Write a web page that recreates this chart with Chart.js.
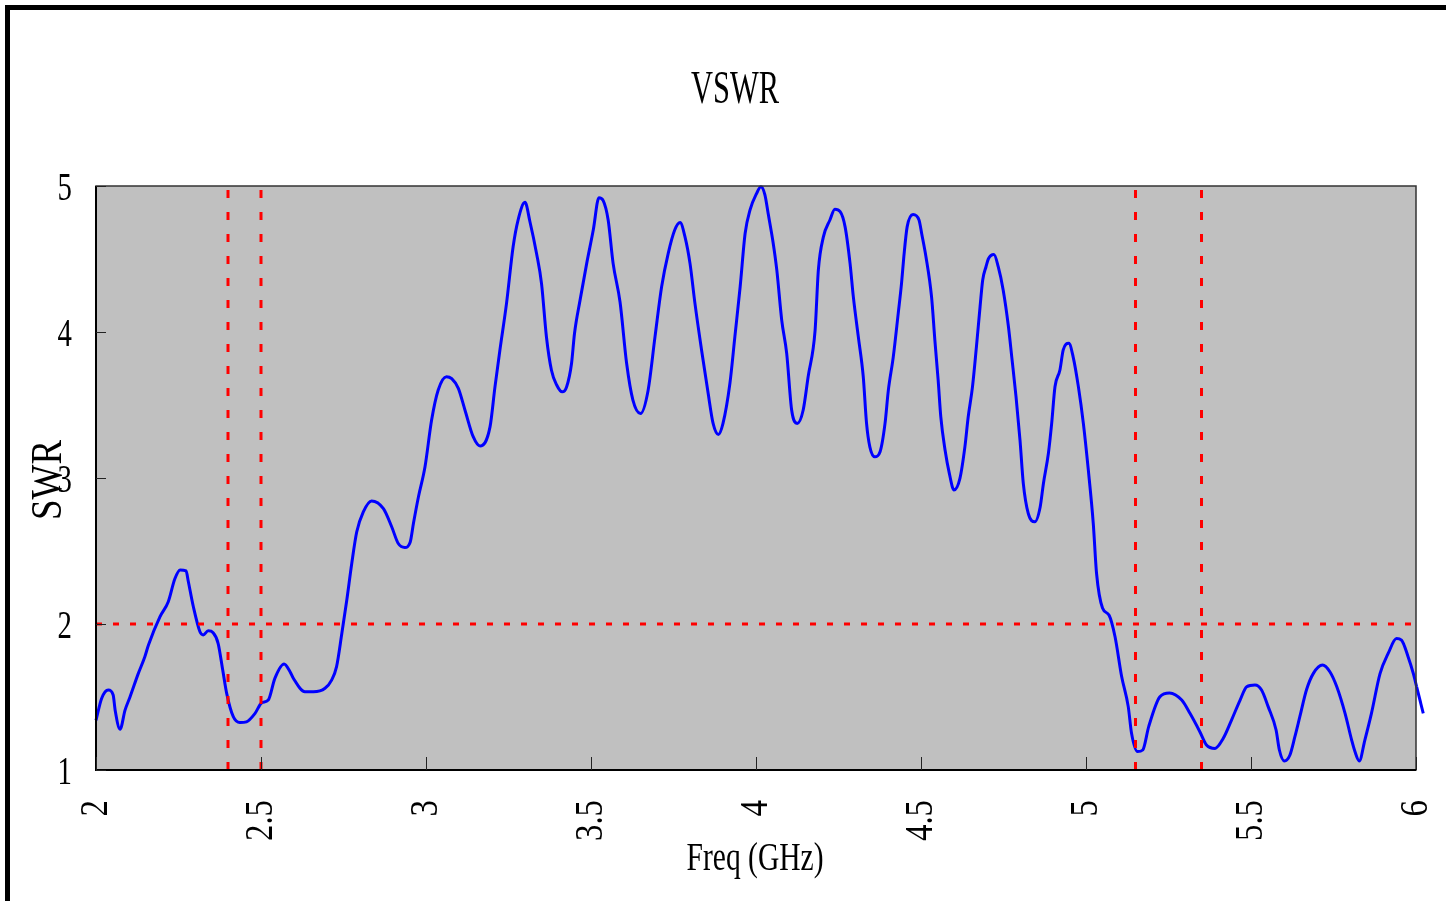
<!DOCTYPE html>
<html>
<head>
    <meta charset="UTF-8">
    <title>VSWR</title>
    <script src="https://cdn.jsdelivr.net/npm/chart.js"></script>
    <style>
        body { margin: 0; background: white; }
        canvas { display: block; }
    </style>
</head>
<body>
    <canvas id="vswr" width="1446" height="901"></canvas>

    <script>
    // frequency in GHz
    const freq = [
        2.000, 2.017, 2.037, 2.052, 2.058, 2.073, 2.088, 2.103, 2.128, 2.148, 2.159, 2.194, 2.219, 2.239, 2.255, 2.273,
        2.279, 2.295, 2.315, 2.325, 2.340, 2.355, 2.370, 2.384, 2.396, 2.416, 2.436, 2.456, 2.482, 2.502, 2.522, 2.542,
        2.570, 2.588, 2.598, 2.633, 2.659, 2.694, 2.714, 2.729, 2.745, 2.760, 2.775, 2.790, 2.810, 2.835, 2.871, 2.896,
        2.916, 2.936, 2.952, 2.962, 2.977, 2.997, 3.017, 3.037, 3.062, 3.078, 3.098, 3.118, 3.143, 3.164, 3.194, 3.209,
        3.224, 3.244, 3.264, 3.279, 3.300, 3.315, 3.335, 3.350, 3.365, 3.380, 3.396, 3.413, 3.426, 3.441, 3.450, 3.467,
        3.487, 3.507, 3.524, 3.537, 3.552, 3.567, 3.588, 3.608, 3.627, 3.650, 3.673, 3.694, 3.714, 3.734, 3.754, 3.770,
        3.785, 3.800, 3.815, 3.835, 3.855, 3.870, 3.886, 3.900, 3.921, 3.936, 3.952, 3.967, 3.982, 4.002, 4.015, 4.027,
        4.037, 4.052, 4.063, 4.078, 4.093, 4.108, 4.125, 4.143, 4.158, 4.179, 4.189, 4.204, 4.224, 4.239, 4.255, 4.270,
        4.285, 4.295, 4.310, 4.325, 4.335, 4.345, 4.360, 4.376, 4.391, 4.401, 4.416, 4.431, 4.441, 4.448, 4.458, 4.476,
        4.494, 4.502, 4.515, 4.532, 4.542, 4.552, 4.560, 4.573, 4.586, 4.600, 4.618, 4.633, 4.643, 4.656, 4.668, 4.679,
        4.687, 4.697, 4.704, 4.721, 4.734, 4.749, 4.765, 4.775, 4.788, 4.800, 4.810, 4.825, 4.845, 4.861, 4.871, 4.886,
        4.896, 4.906, 4.921, 4.931, 4.948, 4.961, 4.977, 4.992, 5.007, 5.022, 5.032, 5.050, 5.070, 5.088, 5.108, 5.128,
        5.138, 5.156, 5.172, 5.190, 5.224, 5.253, 5.290, 5.315, 5.345, 5.365, 5.391, 5.416, 5.441, 5.467, 5.487, 5.512,
        5.532, 5.552, 5.576, 5.586, 5.601, 5.618, 5.633, 5.648, 5.668, 5.689, 5.717, 5.739, 5.760, 5.785, 5.805, 5.815,
        5.828, 5.845, 5.865, 5.891, 5.916, 5.941, 5.956, 5.976, 5.992, 6.002
    ];
    const swr = [
        1.34, 1.49, 1.548, 1.514, 1.41, 1.279, 1.41, 1.50, 1.66, 1.776, 1.856, 2.05, 2.153, 2.31, 2.37, 2.364,
        2.30, 2.118, 1.947, 1.925, 1.953, 1.94, 1.868, 1.685, 1.525, 1.365, 1.325, 1.33, 1.388, 1.46, 1.479, 1.628,
        1.726, 1.673, 1.628, 1.536, 1.536, 1.56, 1.616, 1.708, 1.936, 2.164, 2.415, 2.63, 2.768, 2.843, 2.79, 2.666,
        2.551, 2.524, 2.56, 2.69, 2.87, 3.077, 3.397, 3.603, 3.694, 3.68, 3.614, 3.466, 3.283, 3.219, 3.35, 3.624,
        3.877, 4.196, 4.584, 4.767, 4.888, 4.755, 4.538, 4.333, 3.966, 3.74, 3.637, 3.59, 3.624, 3.784, 3.99, 4.22,
        4.47, 4.70, 4.92, 4.90, 4.767, 4.47, 4.205, 3.784, 3.534, 3.442, 3.60, 3.968, 4.31, 4.539, 4.70, 4.75,
        4.65, 4.47, 4.196, 3.877, 3.58, 3.374, 3.298, 3.374, 3.649, 3.968, 4.31, 4.675, 4.836, 4.95, 4.995, 4.94,
        4.81, 4.61, 4.425, 4.08, 3.854, 3.466, 3.374, 3.466, 3.694, 4.01, 4.425, 4.65, 4.767, 4.84, 4.824, 4.72,
        4.47, 4.24, 3.968, 3.694, 3.374, 3.213, 3.145, 3.18, 3.374, 3.60, 3.83, 4.128, 4.333, 4.516, 4.72, 4.805,
        4.767, 4.675, 4.516, 4.24, 3.945, 3.67, 3.418, 3.19, 3.03, 2.918, 2.998, 3.213, 3.418, 3.624, 3.90, 4.173,
        4.356, 4.447, 4.50, 4.53, 4.447, 4.288, 4.036, 3.83, 3.556, 3.26, 2.963, 2.757, 2.70, 2.80, 2.963, 3.168,
        3.374, 3.625, 3.74, 3.877, 3.923, 3.83, 3.624, 3.374, 3.055, 2.69, 2.346, 2.11, 2.06, 1.913, 1.64, 1.434,
        1.251, 1.126, 1.137, 1.297, 1.502, 1.528, 1.479, 1.388, 1.262, 1.171, 1.148, 1.217, 1.342, 1.479, 1.57, 1.582,
        1.548, 1.434, 1.274, 1.137, 1.062, 1.103, 1.228, 1.365, 1.548, 1.662, 1.719, 1.673, 1.57, 1.388, 1.205, 1.126,
        1.062, 1.205, 1.388, 1.66, 1.80, 1.90, 1.89, 1.776, 1.66, 1.57
    ];
    // the trace runs a little past 6 GHz, over the right edge of the box
    const tailFreq = [6.022, 6.002];
    const tailSwr = [1.388, 1.57];

    // band edges (GHz) and the SWR = 2 limit
    const bandEdges = [2.4, 2.5, 5.15, 5.35];
    const swrLimit = 2;

    const xTicks = [2, 2.5, 3, 3.5, 4, 4.5, 5, 5.5, 6];
    const xTickLabels = ['2', '2.5', '3', '3.5', '4', '4.5', '5', '5.5', '6'];
    const yTicks = [1, 2, 3, 4, 5];
    const yTickLabels = ['1', '2', '3', '4', '5'];

    const FONT = '"Liberation Serif", "DejaVu Serif", serif';

    // narrow serif text: squeeze along the text direction
    function squeezedText(ctx, str, x, y, size, sx, rot, align, base) {
        ctx.save();
        ctx.font = size + 'px ' + FONT;
        ctx.fillStyle = '#000';
        ctx.textAlign = align;
        ctx.textBaseline = base;
        ctx.translate(x, y);
        ctx.rotate(rot);
        ctx.scale(sx, 1);
        ctx.fillText(str, 0, 0);
        ctx.restore();
    }

    function fitText(ctx, str, x, y, size, width, rot) {
        ctx.save();
        ctx.font = size + 'px ' + FONT;
        const sx = width / ctx.measureText(str).width;
        ctx.restore();
        squeezedText(ctx, str, x, y, size, sx, rot, 'center', 'alphabetic');
    }

    const framePlugin = {
        id: 'frame',
        beforeDatasetsDraw(chart) {
            const ctx = chart.ctx;
            const a = chart.chartArea;
            ctx.save();
            ctx.fillStyle = '#c0c0c0';
            ctx.fillRect(a.left, a.top, a.right - a.left, a.bottom - a.top);
            ctx.restore();
        },
        afterDraw(chart) {
            const ctx = chart.ctx;
            const a = chart.chartArea;
            const xs = chart.scales.x;
            const ys = chart.scales.y;
            ctx.save();

            // outer picture frame
            ctx.fillStyle = '#000';
            ctx.fillRect(5, 5, 5, 901);
            ctx.fillRect(5, 5, 1446, 5);

            // plot box
            ctx.strokeStyle = '#333';
            ctx.lineWidth = 1.5;
            ctx.strokeRect(a.left, a.top, a.right - a.left, a.bottom - a.top);
            ctx.strokeStyle = '#000';
            ctx.lineWidth = 2;
            ctx.beginPath();
            ctx.moveTo(a.left, a.top);
            ctx.lineTo(a.left, a.bottom);
            ctx.lineTo(a.right, a.bottom);
            ctx.stroke();

            // inward tick marks
            ctx.lineWidth = 1;
            ctx.strokeStyle = '#222';
            ctx.beginPath();
            xTicks.forEach(function (v) {
                const px = Math.round(xs.getPixelForValue(v)) + 0.5;
                ctx.moveTo(px, a.bottom);
                ctx.lineTo(px, a.bottom - 13);
            });
            yTicks.forEach(function (v) {
                const py = Math.round(ys.getPixelForValue(v)) + 0.5;
                ctx.moveTo(a.left, py);
                ctx.lineTo(a.left + 10, py);
            });
            ctx.stroke();
            ctx.restore();

            // tick labels
            xTicks.forEach(function (v, i) {
                squeezedText(ctx, xTickLabels[i], xs.getPixelForValue(v), a.bottom + 30, 40, 0.82,
                    -Math.PI / 2, 'right', 'middle');
            });
            yTicks.forEach(function (v, i) {
                squeezedText(ctx, yTickLabels[i], a.left - 24, ys.getPixelForValue(v) + 3, 40, 0.72,
                    0, 'right', 'middle');
            });

            // titles
            fitText(ctx, 'VSWR', 735, 103, 46, 88, 0);
            fitText(ctx, 'Freq (GHz)', 755, 870, 40, 137, 0);
            fitText(ctx, 'SWR', 61, 480, 44, 80, -Math.PI / 2);
        }
    };

    function markerLine(x) {
        return {
            data: [{ x: x, y: 1 }, { x: x, y: 5 }],
            borderColor: '#ff0000',
            borderWidth: 3,
            borderDash: [8, 14],
            pointRadius: 0,
            order: 0
        };
    }

    const datasets = bandEdges.map(markerLine);
    datasets.push({
        data: [{ x: 2, y: swrLimit }, { x: 6, y: swrLimit }],
        borderColor: '#ff0000',
        borderWidth: 3,
        borderDash: [6, 11],
        pointRadius: 0,
        order: 0
    });
    datasets.push({
        data: freq.map(function (f, i) { return { x: f, y: swr[i] }; }),
        borderColor: '#0000ff',
        borderWidth: 3,
        pointRadius: 0,
        cubicInterpolationMode: 'monotone',
        clip: false,
        order: 1
    });
    datasets.push({
        data: tailFreq.map(function (f, i) { return { x: f, y: tailSwr[i] }; }),
        borderColor: '#0000ff',
        borderWidth: 3,
        pointRadius: 0,
        clip: false,
        order: 1
    });

    new Chart(document.getElementById('vswr').getContext('2d'), {
        type: 'line',
        data: { datasets: datasets },
        options: {
            responsive: false,
            animation: false,
            devicePixelRatio: 1,
            layout: { padding: { left: 96, top: 186, right: 30, bottom: 131 } },
            plugins: {
                legend: { display: false },
                tooltip: { enabled: false },
                title: { display: false }
            },
            scales: {
                x: { type: 'linear', min: 2, max: 6, display: false },
                y: { type: 'linear', min: 1, max: 5, display: false }
            }
        },
        plugins: [framePlugin]
    });
    </script>
</body>
</html>
